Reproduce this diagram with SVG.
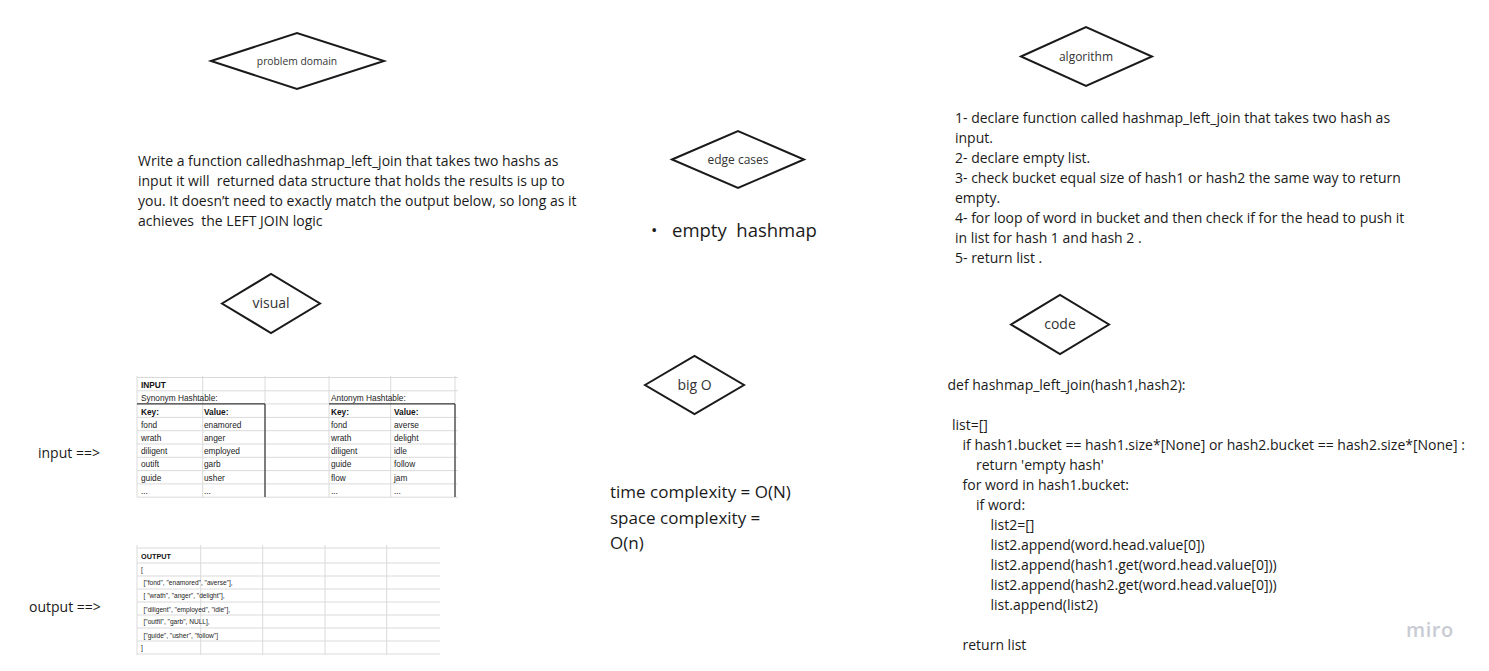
<svg xmlns="http://www.w3.org/2000/svg" width="1489" height="671" viewBox="0 0 1489 671">
<style>
.dia{fill:#ffffff;stroke:#1a1a1a;stroke-width:2;stroke-linejoin:miter}
.lbl{font-family:"Open Sans","Noto Sans",sans-serif;fill:#333333;text-anchor:middle}
.body{font-family:"Open Sans","Noto Sans",sans-serif;font-size:14px;fill:#1a1a1a}
.big{font-family:"Open Sans","Noto Sans",sans-serif;font-size:17px;fill:#1a1a1a}
.grid{stroke:#dadada;stroke-width:1;fill:none}
.dark{stroke:#333333;stroke-width:1.2;fill:none}
.tb{font-family:"Liberation Sans",Arial,sans-serif;font-size:8.3px;fill:#222222}
.tbb{font-family:"Liberation Sans",Arial,sans-serif;font-size:8.3px;font-weight:bold;fill:#111111}
.ob{font-family:"Liberation Sans",Arial,sans-serif;font-size:6.6px;fill:#222222}
.obb{font-family:"Liberation Sans",Arial,sans-serif;font-size:7.3px;font-weight:bold;fill:#111111}
</style>
<rect width="1489" height="671" fill="#ffffff"/>

<g id="problem-domain">
<polygon class="dia" points="211,61 297,33 384,61 297,89"/>
<text class="lbl" x="297" y="64.5" font-size="10.3">problem domain</text>
</g>
<g id="problem-text">
<text class="body" x="138" y="166">Write a function calledhashmap_left_join that takes two hashs as</text>
<text class="body" x="138" y="186" xml:space="preserve">input it will  returned data structure that holds the results is up to</text>
<text class="body" x="138" y="206">you. It doesn’t need to exactly match the output below, so long as it</text>
<text class="body" x="138" y="226" xml:space="preserve">achieves  the LEFT JOIN logic</text>
</g>

<g id="visual">
<polygon class="dia" points="222,303.5 271,274 320,303.5 271,333"/>
<text class="lbl" x="271" y="308" font-size="14">visual</text>
</g>

<g id="input-label"><text class="body" x="38" y="458">input ==&gt;</text></g>
<g id="output-label"><text class="body" x="29" y="612">output ==&gt;</text></g>

<g id="input-table">
<g class="grid">
<line x1="137" y1="377.5" x2="458" y2="377.5"/>
<line x1="137" y1="390.8" x2="458" y2="390.8"/>
<line x1="137" y1="417.4" x2="458" y2="417.4"/>
<line x1="137" y1="430.7" x2="458" y2="430.7"/>
<line x1="137" y1="444" x2="458" y2="444"/>
<line x1="137" y1="457.3" x2="458" y2="457.3"/>
<line x1="137" y1="470.6" x2="458" y2="470.6"/>
<line x1="137" y1="483.9" x2="458" y2="483.9"/>
<line x1="137" y1="497.2" x2="458" y2="497.2"/>
<line x1="265" y1="403.9" x2="329" y2="403.9"/>
<line x1="137" y1="376" x2="137" y2="497"/>
<line x1="202.7" y1="376" x2="202.7" y2="497"/>
<line x1="265" y1="376" x2="265" y2="497"/>
<line x1="329" y1="376" x2="329" y2="497"/>
<line x1="390.7" y1="376" x2="390.7" y2="497"/>
<line x1="455" y1="376" x2="455" y2="497"/>
</g>
<g class="dark">
<line x1="137" y1="403.9" x2="265" y2="403.9"/>
<line x1="265" y1="403.9" x2="265" y2="497"/>
<line x1="329" y1="403.9" x2="455" y2="403.9"/>
<line x1="455" y1="403.9" x2="455" y2="497"/>
</g>
<text class="tbb" x="141" y="387.5">INPUT</text>
<text class="tb" x="141" y="401">Synonym Hashtable:</text>
<text class="tb" x="331" y="401">Antonym Hashtable:</text>
<text class="tbb" x="141" y="414.5">Key:</text><text class="tbb" x="204" y="414.5">Value:</text>
<text class="tbb" x="331" y="414.5">Key:</text><text class="tbb" x="394" y="414.5">Value:</text>
<text class="tb" x="141" y="427.5">fond</text><text class="tb" x="204" y="427.5">enamored</text>
<text class="tb" x="141" y="441">wrath</text><text class="tb" x="204" y="441">anger</text>
<text class="tb" x="141" y="454">diligent</text><text class="tb" x="204" y="454">employed</text>
<text class="tb" x="141" y="467.3">outift</text><text class="tb" x="204" y="467.3">garb</text>
<text class="tb" x="141" y="480.5">guide</text><text class="tb" x="204" y="480.5">usher</text>
<text class="tb" x="141" y="493.5">...</text><text class="tb" x="204" y="493.5">...</text>
<text class="tb" x="331" y="427.5">fond</text><text class="tb" x="394" y="427.5">averse</text>
<text class="tb" x="331" y="441">wrath</text><text class="tb" x="394" y="441">delight</text>
<text class="tb" x="331" y="454">diligent</text><text class="tb" x="394" y="454">idle</text>
<text class="tb" x="331" y="467.3">guide</text><text class="tb" x="394" y="467.3">follow</text>
<text class="tb" x="331" y="480.5">flow</text><text class="tb" x="394" y="480.5">jam</text>
<text class="tb" x="331" y="493.5">...</text><text class="tb" x="394" y="493.5">...</text>
</g>

<g id="output-table">
<g class="grid">
<line x1="137" y1="548" x2="440" y2="548"/>
<line x1="137" y1="563" x2="440" y2="563"/>
<line x1="137" y1="576" x2="440" y2="576"/>
<line x1="137" y1="589" x2="440" y2="589"/>
<line x1="137" y1="602" x2="440" y2="602"/>
<line x1="137" y1="615" x2="440" y2="615"/>
<line x1="137" y1="628" x2="440" y2="628"/>
<line x1="137" y1="641" x2="440" y2="641"/>
<line x1="137" y1="654" x2="440" y2="654"/>
<line x1="137" y1="545" x2="137" y2="655"/>
<line x1="200.7" y1="545" x2="200.7" y2="655"/>
<line x1="262.7" y1="545" x2="262.7" y2="655"/>
<line x1="325" y1="545" x2="325" y2="655"/>
<line x1="386.7" y1="545" x2="386.7" y2="655"/>
</g>
<text class="obb" x="141" y="558.5">OUTPUT</text>
<text class="ob" x="141" y="572">[</text>
<text class="ob" x="143.5" y="585">["fond", "enamored", "averse"],</text>
<text class="ob" x="143.5" y="597.5" xml:space="preserve">[ "wrath", "anger", "delight"],</text>
<text class="ob" x="143.5" y="612">["diligent", "employed", "idle"],</text>
<text class="ob" x="143.5" y="624">["outfil", "garb", NULL],</text>
<text class="ob" x="143.5" y="637.5">["guide", "usher", "follow"]</text>
<text class="ob" x="141" y="650">]</text>
</g>

<g id="edge-cases">
<polygon class="dia" points="672,159.5 738,131 804,159.5 738,188"/>
<text class="lbl" x="738" y="163.5" font-size="12">edge cases</text>
</g>
<g id="edge-text">
<text class="big" x="651" y="236">•</text>
<text class="big" x="672" y="236.5" style="font-size:18.5px" xml:space="preserve">empty  hashmap</text>
</g>

<g id="big-o">
<polygon class="dia" points="645,385 694.5,356 744,385 694.5,414"/>
<text class="lbl" x="694.5" y="390" font-size="14">big O</text>
</g>
<g id="big-o-text">
<text class="big" x="610" y="498">time complexity = O(N)</text>
<text class="big" x="610" y="524">space complexity =</text>
<text class="big" x="610" y="549">O(n)</text>
</g>

<g id="algorithm">
<polygon class="dia" points="1021,56.5 1086,27 1152,56.5 1086,86"/>
<text class="lbl" x="1086" y="60.5" font-size="12">algorithm</text>
</g>
<g id="algorithm-text">
<text class="body" x="955" y="123">1- declare function called hashmap_left_join that takes two hash as</text>
<text class="body" x="955" y="143">input.</text>
<text class="body" x="955" y="163">2- declare empty list.</text>
<text class="body" x="955" y="183">3- check bucket equal size of hash1 or hash2 the same way to return</text>
<text class="body" x="955" y="203">empty.</text>
<text class="body" x="955" y="223">4- for loop of word in bucket and then check if for the head to push it</text>
<text class="body" x="955" y="242.5">in list for hash 1 and hash 2 .</text>
<text class="body" x="955" y="262.5">5- return list .</text>
</g>

<g id="code">
<polygon class="dia" points="1011,324.5 1060,295 1109,324.5 1060,354"/>
<text class="lbl" x="1060" y="329" font-size="14">code</text>
</g>
<g id="code-text">
<text class="body" x="947.5" y="390">def hashmap_left_join(hash1,hash2):</text>
<text class="body" x="952" y="430">list=[]</text>
<text class="body" x="962.5" y="450">if hash1.bucket == hash1.size*[None] or hash2.bucket == hash2.size*[None] :</text>
<text class="body" x="976" y="470">return 'empty hash'</text>
<text class="body" x="962.5" y="490">for word in hash1.bucket:</text>
<text class="body" x="976" y="510">if word:</text>
<text class="body" x="990.5" y="530">list2=[]</text>
<text class="body" x="990.5" y="550">list2.append(word.head.value[0])</text>
<text class="body" x="990.5" y="570">list2.append(hash1.get(word.head.value[0]))</text>
<text class="body" x="990.5" y="590">list2.append(hash2.get(word.head.value[0]))</text>
<text class="body" x="990.5" y="610">list.append(list2)</text>
<text class="body" x="962.5" y="650">return list</text>
</g>

<g id="watermark">
<text x="1406" y="637" font-family="'Open Sans','Noto Sans',sans-serif" font-size="20" font-weight="600" fill="#c9cbd3" letter-spacing="0.6">miro</text>
</g>
</svg>
